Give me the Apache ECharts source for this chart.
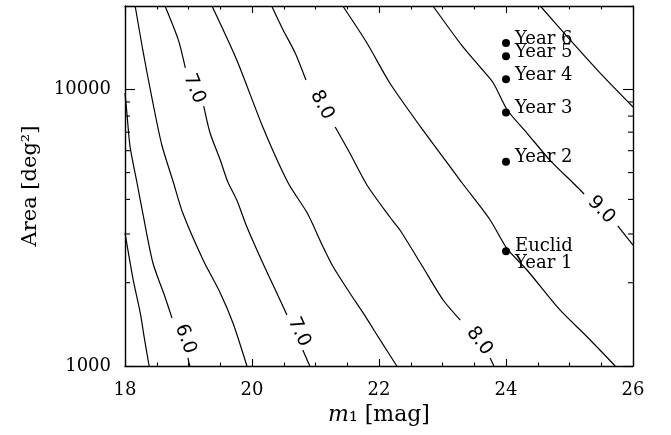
<!DOCTYPE html>
<html><head><meta charset="utf-8">
<script src="https://cdn.jsdelivr.net/npm/echarts@6/dist/echarts.min.js"></script>
<style>html,body{margin:0;padding:0;background:#fff}#c{width:671px;height:435px}</style>
</head><body><div id="c"></div>
<script>
// ---- axes ----
const xMin = 18, xMax = 26, xInterval = 2;
const yMin = 1000, yMax = 20000;
const yLabelTicks = [1000, 10000];
const yMinorTicks = [2000, 3000, 4000, 5000, 6000, 7000, 8000, 9000];

// ---- contour lines: [m1 (mag), area (deg^2)] ----
const c55 = [[18.00,3030],[18.13,2045],[18.24,1555],[18.31,1240],[18.38,1000]];
const c60a = [[18.00,9700],[18.03,8210],[18.08,6190],[18.19,4585],[18.28,3570],[18.44,2356],[18.63,1776],[18.74,1491]];
const c60b = [[18.99,1069],[19.02,1000]];
const c65 = [[18.16,20000],[18.28,13870],[18.43,9150],[18.58,6290],[18.76,4624],[18.91,3570],[19.23,2416],[19.50,1836],[19.70,1430],[19.92,1000]];
const c70a = [[18.63,20000],[18.84,15080],[18.95,11940]];
const c70b = [[19.24,8700],[19.34,6950],[19.50,5550],[19.62,4624],[19.76,3980],[19.92,3180],[20.17,2356],[20.39,1836],[20.55,1529]];
const c70c = [[20.80,1142],[20.91,1000]];
const c75 = [[19.37,20000],[19.76,12760],[20.17,7310],[20.57,4585],[20.87,3570],[21.12,2692],[21.28,2279],[21.54,1836],[21.75,1555],[22.02,1240],[22.28,1000]];
const c80a = [[20.31,20000],[20.49,16380],[20.68,13530],[20.85,10800]];
const c80b = [[21.31,7310],[21.54,5886],[21.81,4510],[22.17,3455],[22.33,3100],[22.69,2279],[23.01,1732],[23.28,1466]];
const c80c = [[23.75,1069],[23.81,1000]];
const c85 = [[21.43,20000],[21.81,14700],[22.17,10540],[22.69,7130],[23.31,4585],[23.75,3370],[24.02,2648],[24.33,2223],[24.85,1594],[25.28,1273],[25.72,1000]];
const c90a = [[22.85,20000],[23.31,14340],[23.59,12040],[23.80,10540],[24.02,8420],[24.33,6950],[24.69,5550],[25.09,4510],[25.23,4184]];
const c90b = [[25.76,3206],[26.00,2737]];
const c95 = [[24.54,20000],[25.01,15080],[25.48,11460],[26.00,8630]];
const contourSegments = [c55,c60a,c60b,c65,c70a,c70b,c70c,c75,c80a,c80b,c80c,c85,c90a,c90b,c95];

// ---- contour labels ----
const contourLabels = ['6.0','7.0','7.0','8.0','8.0','9.0'];
const contourLabelM = [18.95,19.09,20.74,21.10,23.58,25.50];
const contourLabelArea = [1252,10050,1327,8780,1231,3663];

// ---- survey points ----
const surveyNames = ['Euclid\nYear 1','Year 2','Year 3','Year 4','Year 5','Year 6'];
const surveyM = [24,24,24,24,24,24];
const surveyArea = [2600,5470,8250,10870,13160,14700];

// ---- styles (not data) ----
const labelAngles = [-70,-68,-65,-62,-53,-46];
const SERIF = 'DejaVu Serif';
const SANS = 'DejaVu Sans';

const chart = echarts.init(document.getElementById('c'), null, {renderer:'canvas'});

const axisLineStyle = {show:true, onZero:false, lineStyle:{color:'#000', width:1.4}};
const xBase = {type:'value', min:xMin, max:xMax, interval:xInterval,
  axisLine:axisLineStyle,
  axisTick:{show:true, inside:true, length:7, lineStyle:{color:'#000', width:1.1}},
  minorTick:{show:true, splitNumber:4, length:3.5, lineStyle:{color:'#000', width:1.1}},
  splitLine:{show:false}, minorSplitLine:{show:false}};
const yBase = {type:'log', logBase:10, min:yMin, max:yMax,
  axisLine:axisLineStyle,
  axisTick:{show:true, inside:true, length:10, lineStyle:{color:'#000', width:1.1}},
  splitLine:{show:false}};

const series = [];
contourSegments.forEach(seg => {
  series.push({type:'line', data:seg, symbol:'none', smooth:0.25, silent:true,
    lineStyle:{color:'#000', width:1.2}, z:3});
});
series.push({type:'scatter', silent:true, symbolSize:1, itemStyle:{color:'rgba(0,0,0,0)'},
  data: contourLabels.map((t,i)=>({value:[contourLabelM[i], contourLabelArea[i]], name:t,
    label:{rotate:labelAngles[i]}})),
  label:{show:true, position:'inside', formatter:p=>p.name, fontFamily:SANS, fontSize:19, color:'#000', opacity:1}, z:4});
series.push({type:'scatter', silent:true, symbolSize:8, itemStyle:{color:'#000', opacity:1},
  data: surveyNames.map((n,i)=>({value:[surveyM[i], surveyArea[i]], name:n,
    label:{offset: i===0 ? [0,4] : [0,-4]}})),
  label:{show:true, position:'right', distance:5, formatter:p=>p.name, fontFamily:SERIF, fontSize:18,
    lineHeight:17, color:'#000', opacity:1}, z:5});
series.push({type:'custom', silent:true, xAxisIndex:0, yAxisIndex:0, clip:false, z:6,
  data: yMinorTicks.map(v=>[xMin, v]), encode:{x:0, y:1},
  renderItem:(params, api)=>{
    const v = api.value(1);
    const pl = api.coord([xMin, v]);
    const pr = api.coord([xMax, v]);
    return {type:'group', children:[
      {type:'line', shape:{x1:pl[0], y1:pl[1], x2:pl[0]+5, y2:pl[1]}, style:{stroke:'#000', lineWidth:1.1}},
      {type:'line', shape:{x1:pr[0], y1:pr[1], x2:pr[0]-5, y2:pr[1]}, style:{stroke:'#000', lineWidth:1.1}}
    ]};
  }});

chart.setOption({
  animation:false,
  backgroundColor:'#fff',
  grid:{left:125, right:38, top:6, bottom:69, containLabel:false},
  xAxis:[
    Object.assign({}, xBase, {position:'bottom',
      axisLabel:{fontFamily:SERIF, fontSize:18, color:'#000', margin:15},
      name:'{i|m}₁ [mag]', nameLocation:'middle', nameGap:27,
      nameTextStyle:{fontFamily:SERIF, fontSize:22, color:'#000',
        rich:{i:{fontFamily:SERIF, fontStyle:'italic', fontSize:22, color:'#000'}}}}),
    Object.assign({}, xBase, {position:'top', axisLabel:{show:false}})
  ],
  yAxis:[
    Object.assign({}, yBase, {position:'left',
      axisLabel:{fontFamily:SERIF, fontSize:18, color:'#000', margin:14,
        formatter:v=>{const t=yLabelTicks.find(t=>Math.abs(t-v)/t<1e-6); return t? String(t):'';}},
      name:'Area [deg²]', nameLocation:'middle', nameRotate:90, nameGap:84,
      nameTextStyle:{fontFamily:SERIF, fontSize:21, color:'#000'}}),
    Object.assign({}, yBase, {position:'right', axisLabel:{show:false}})
  ],
  series: series
});
</script></body></html>
